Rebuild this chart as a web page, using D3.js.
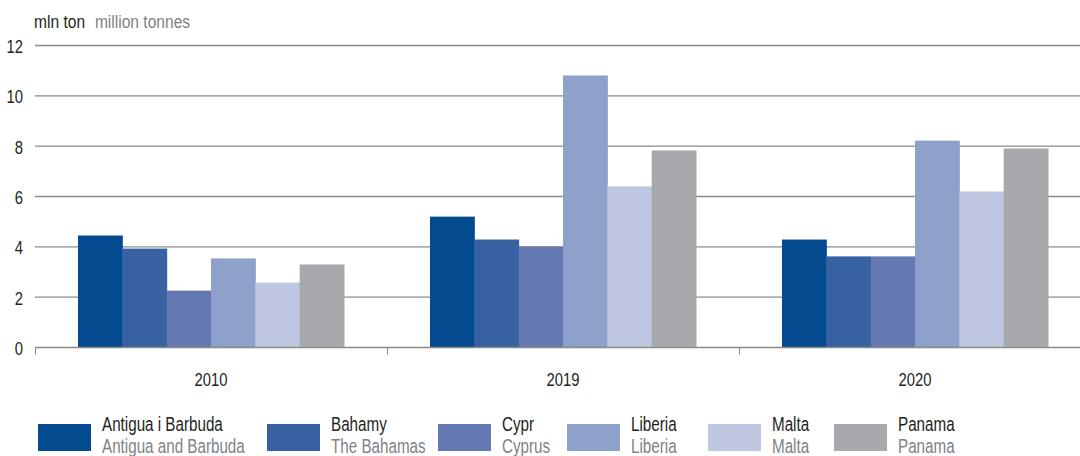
<!DOCTYPE html>
<html>
<head>
<meta charset="utf-8">
<script src="https://cdn.jsdelivr.net/npm/d3@7"></script>
<style>
  body { margin: 0; background: #fff; }
  svg text { font-family: "Liberation Sans", Arial, sans-serif; }
</style>
</head>
<body>
<div id="chart"></div>
<script>

// data
var years = ["2010", "2019", "2020"];
var flags_pl = ["Antigua i Barbuda", "Bahamy", "Cypr", "Liberia", "Malta", "Panama"];
var flags_en = ["Antigua and Barbuda", "The Bahamas", "Cyprus", "Liberia", "Malta", "Panama"];
var v2010 = [4.45, 3.93, 2.26, 3.54, 2.58, 3.30];
var v2019 = [5.20, 4.29, 4.01, 10.81, 6.40, 7.83];
var v2020 = [4.29, 3.62, 3.62, 8.22, 6.20, 7.91];
var yTicks = [0, 2, 4, 6, 8, 10, 12];
var colors = ["#034a8f", "#3761a0", "#6479b1", "#8ea1ca", "#c0c8e1", "#a8a9ad"];

var values = [v2010, v2019, v2020];

var width = 1080, height = 456;
var narrow = "scale(0.78,1)";   // no condensed font here, so squeeze Liberation Sans

var svg = d3.select("#chart").append("svg")
    .attr("width", width)
    .attr("height", height);

var x0 = d3.scaleBand().domain(years).range([35, 1091]).padding(0);
var x1 = d3.scaleBand().domain(flags_pl).range([43, 309]).padding(0);
var y = d3.scaleLinear().domain([0, 12]).range([347.5, 45.5]);

// gridlines
svg.append("g")
    .selectAll("line")
    .data(yTicks.slice(1))
    .enter().append("line")
    .attr("x1", 35).attr("x2", width)
    .attr("y1", function(d) { return y(d); })
    .attr("y2", function(d) { return y(d); })
    .style("stroke", "#8a8a8a")
    .style("stroke-width", 1.4);

// y labels
var yAxis = d3.axisLeft(y).tickValues(yTicks).tickSize(0).tickPadding(0);
var yg = svg.append("g")
    .attr("transform", "translate(23,0)")
    .call(yAxis);
yg.select(".domain").remove();
yg.selectAll("text")
    .attr("x", 0).attr("dy", "0.36em")
    .attr("transform", narrow)
    .style("font-size", "19px")
    .style("font-family", "'Liberation Sans', Arial, sans-serif")
    .style("fill", "#231f20");

// unit label
var unit = svg.append("text")
    .attr("transform", "translate(34,28) scale(0.82,1)")
    .style("font-size", "19px");
unit.append("tspan").style("fill", "#231f20").text("mln ton");
unit.append("tspan").attr("dx", 12).style("fill", "#808285").text("million tonnes");

// bars
var groups = svg.append("g")
    .selectAll("g")
    .data(years)
    .enter().append("g")
    .attr("transform", function(d) { return "translate(" + x0(d) + ",0)"; });

groups.selectAll("rect")
    .data(function(d, i) {
        return values[i].map(function(v, j) { return {flag: flags_pl[j], value: v, c: colors[j]}; });
    })
    .enter().append("rect")
    .attr("x", function(d) { return x1(d.flag); })
    .attr("width", x1.bandwidth() + 0.5)
    .attr("y", function(d) { return y(d.value); })
    .attr("height", function(d) { return y(0) - y(d.value); })
    .style("fill", function(d) { return d.c; });

// x axis
var xAxis = d3.axisBottom(x0).tickSize(0).tickPadding(0);
var xg = svg.append("g")
    .attr("transform", "translate(0," + y(0) + ")")
    .call(xAxis);
xg.select(".domain").remove();
xg.selectAll("text")
    .attr("y", 38.5).attr("dy", 0)
    .attr("transform", narrow)
    .style("font-size", "19px")
    .style("fill", "#231f20")
    .style("font-family", "'Liberation Sans', Arial, sans-serif");

svg.append("line")
    .attr("x1", 35).attr("x2", width)
    .attr("y1", y(0)).attr("y2", y(0))
    .style("stroke", "#8a8a8a")
    .style("stroke-width", 1.4);

svg.append("g")
    .selectAll("line")
    .data(years.concat(["end"]))
    .enter().append("line")
    .attr("x1", function(d, i) { return Math.round(35 + i * x0.bandwidth()) + 0.5; })
    .attr("x2", function(d, i) { return Math.round(35 + i * x0.bandwidth()) + 0.5; })
    .attr("y1", y(0))
    .attr("y2", y(0) + 7)
    .style("stroke", "#8a8a8a")
    .style("stroke-width", 1);

// legend
var legendX = [38, 267, 438, 567, 708, 834];
var legend = svg.append("g")
    .selectAll("g")
    .data(flags_pl)
    .enter().append("g")
    .attr("transform", function(d, i) { return "translate(" + legendX[i] + ",424)"; });

legend.append("rect")
    .attr("width", 53).attr("height", 27)
    .style("fill", function(d, i) { return colors[i]; });

legend.append("text")
    .attr("transform", "translate(64,7) " + narrow)
    .style("font-size", "19.5px")
    .style("fill", "#231f20")
    .text(function(d) { return d; });

legend.append("text")
    .attr("transform", "translate(64,29) " + narrow)
    .style("font-size", "19.5px")
    .style("fill", "#808285")
    .text(function(d, i) { return flags_en[i]; });

</script>
</body>
</html>
